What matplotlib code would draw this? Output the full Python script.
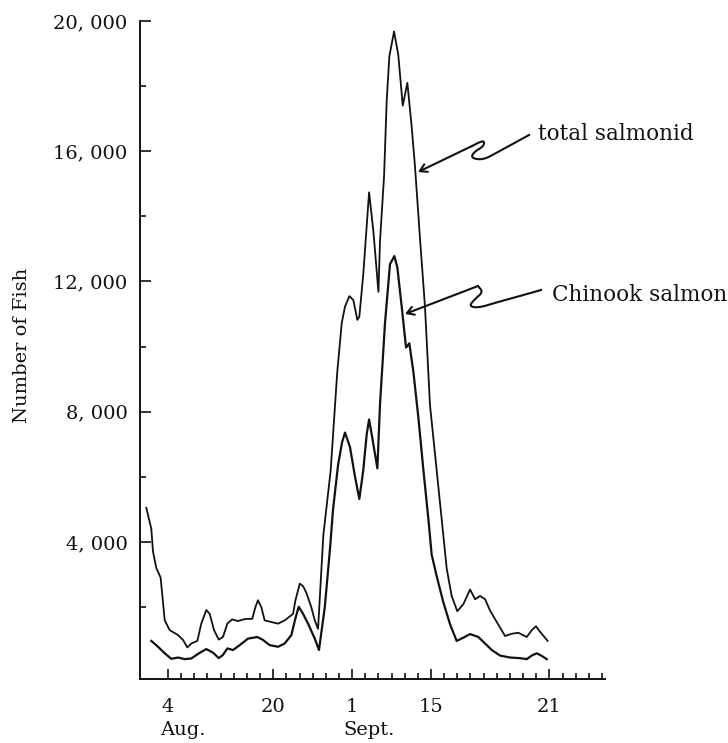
import numpy as np
import matplotlib
matplotlib.use("Agg")
from matplotlib import pyplot as plt

# x is measured in tick intervals along the date axis (tick 0 = "4 Aug.")
TOTAL_X = [-1.65, -1.27, -1.14, -0.89, -0.56, -0.25, 0.13, 0.76, 1.14, 1.47, 1.77, 2.23, 2.53, 2.91,
           3.17, 3.50, 3.86, 4.18, 4.51, 4.87, 5.32, 5.83, 6.41, 6.64, 6.84, 7.10, 7.35, 7.86, 8.37,
           8.87, 9.51, 9.68, 10.02, 10.27, 10.52, 10.90, 11.16, 11.41, 11.81, 12.37, 12.87, 13.21,
           13.46, 13.79, 14.09, 14.40, 14.55, 14.85, 15.29, 15.62, 16.0, 16.12, 16.43, 16.63, 16.83,
           17.19, 17.51, 17.85, 18.2, 18.53, 18.78, 19.16, 19.54, 19.92, 20.43, 20.81, 21.19, 21.57,
           22.0, 22.46, 22.97, 23.35, 23.73, 24.11, 24.49, 25.0, 25.63, 26.14, 26.64, 27.28, 27.66,
           27.98, 28.29, 28.87]
TOTAL_Y = [5050, 4400, 3700, 3200, 2900, 1590, 1290, 1140, 990, 760, 880, 960, 1490, 1910,
           1790, 1290, 1000, 1080, 1490, 1620, 1570, 1630, 1640, 1990, 2210, 1990, 1590, 1540, 1490,
           1590, 1790, 2190, 2720, 2640, 2440, 1990, 1590, 1330, 4200, 6200, 9220, 10720,
           11230, 11550, 11430, 10820, 10920, 12230, 14740, 13530, 11680, 13230, 15240, 17550, 18910,
           19680, 18960, 17400, 18100, 16750, 15540, 13330, 11230, 8210, 6200, 4700, 3190, 2340,
           1870, 2090, 2540, 2240, 2340, 2240, 1890, 1540, 1110, 1180, 1210, 1080, 1290,
           1410, 1240, 960]

CHINOOK_X = [-1.27, -0.76, -0.25, 0.25, 0.76, 1.27, 1.77, 2.28, 2.91, 3.42, 3.86, 4.18, 4.51, 4.94,
             5.45, 6.08, 6.79, 7.22, 7.73, 8.37, 8.87, 9.38, 9.68, 9.94, 10.27, 10.65, 11.16, 11.48,
             11.92, 12.32, 12.55, 12.93, 13.23, 13.46, 13.84, 14.22, 14.55, 14.85, 15.11, 15.29,
             15.57, 15.92, 16.12, 16.5, 16.88, 17.21, 17.44, 17.77, 18.1, 18.35, 18.66, 19.04, 19.42,
             19.8, 20.05, 20.43, 20.94, 21.44, 21.95, 22.46, 22.97, 23.6, 24.11, 24.62, 25.25, 26.0,
             26.77, 27.28, 27.66, 28.04, 28.42, 28.80]
CHINOOK_Y = [960, 780, 580, 410, 450, 400, 420, 560, 710, 600, 430, 530, 730, 680,
             830, 1030, 1080, 990, 830, 780, 880, 1140, 1640, 2010, 1790, 1490, 1030, 680,
             1990, 3800, 5000, 6360, 7050, 7360, 6910, 6000, 5320, 6210, 7310, 7760,
             7110, 6260, 8210, 10720, 12530, 12780, 12430, 11230, 9970, 10100, 9220, 7810, 6210,
             4700, 3610, 2950, 2140, 1480, 960, 1060, 1170, 1080, 880, 680, 510, 450,
             430, 400, 510, 580, 500, 400]

DATE_TICKS = [0, 8, 14, 20, 29]
DATE_LABELS = ['4', '20', '1', '15', '21']
MONTHS = [(-0.6, 'Aug.'), (13.3, 'Sept.')]
Y_TICKS = [4000, 8000, 12000, 16000, 20000]
Y_LABELS = ['4, 000', '8, 000', '12, 000', '16, 000', '20, 000']

W, H = 728, 743
FONT = 'DejaVu Serif'
INK = '#111111'


def px(x, y):
    return x / W, 1 - y / H


def chaikin(pts, n=3):
    pts = np.asarray(pts, float)
    for _ in range(n):
        a, b = pts[:-1], pts[1:]
        q = 0.75 * a + 0.25 * b
        r = 0.25 * a + 0.75 * b
        mid = np.empty((len(q) * 2, 2))
        mid[0::2], mid[1::2] = q, r
        pts = np.vstack([pts[:1], mid, pts[-1:]])
    return pts


def squiggle(fig, tip, pts):
    # hand drawn wavy pointer, pts run from the text toward the curve
    line = chaikin([px(*p) for p in pts], n=2)
    fig.add_artist(plt.Line2D(line[:, 0], line[:, 1], transform=fig.transFigure, color=INK, lw=1.5))
    fig.add_artist(matplotlib.patches.FancyArrowPatch(
        px(*pts[-1]), px(*tip), transform=fig.transFigure,
        arrowstyle='->,head_length=5,head_width=3', color=INK, lw=1.5, shrinkA=0, shrinkB=0))


fig = plt.figure(figsize=(W / 100, H / 100), dpi=100)
ax = fig.add_axes([140 / W, 1 - 679 / H, 465 / W, 658 / H])

ax.plot(TOTAL_X, TOTAL_Y, color=INK, lw=1.3)
ax.plot(CHINOOK_X, CHINOOK_Y, color=INK, lw=1.6)

ax.set_xlim(-2.13, 33.23)
ax.set_ylim(-210, 20000)
for s in ['top', 'right']:
    ax.spines[s].set_visible(False)
for s in ['left', 'bottom']:
    ax.spines[s].set_linewidth(1.4)
    ax.spines[s].set_color(INK)

ax.set_xticks(DATE_TICKS)
ax.set_xticklabels(DATE_LABELS, fontfamily=FONT, fontsize=14)
ax.set_xticks(np.arange(0, 34), minor=True)
ax.set_yticks(Y_TICKS)
ax.set_yticklabels(Y_LABELS, fontfamily=FONT, fontsize=14)
ax.set_yticks(np.arange(2000, 20000, 4000), minor=True)
ax.tick_params(axis='x', which='major', direction='in', length=7, width=1.2, pad=14, colors=INK)
ax.tick_params(axis='x', which='minor', direction='in', length=4, width=1.2, colors=INK)
ax.tick_params(axis='y', which='major', direction='in', length=8, width=1.2, pad=9, colors=INK)
ax.tick_params(axis='y', which='minor', direction='in', length=4, width=1.2, colors=INK)

for x, name in MONTHS:
    ax.text(x, -0.078, name, transform=ax.get_xaxis_transform(), ha='left', va='center',
            fontfamily=FONT, fontsize=14, color=INK)

fig.text(22 / W, 1 - 345 / H, 'Number of Fish', rotation=90, ha='center', va='center',
         fontfamily=FONT, fontsize=14, color=INK)

fig.text(538 / W, 1 - 134 / H, 'total salmonid', ha='left', va='center',
         fontfamily=FONT, fontsize=15.5, color=INK)
fig.text(552 / W, 1 - 295 / H, 'Chinook salmon', ha='left', va='center',
         fontfamily=FONT, fontsize=15.5, color=INK)

squiggle(fig, (418, 172), [(529, 135), (498, 152), (483, 160), (471, 158), (474, 152),
                           (484, 146), (484, 140), (472, 146)])
squiggle(fig, (405, 314), [(541, 290), (520, 296), (498, 302), (478, 308), (469, 306),
                           (475, 299), (483, 292), (478, 286)])

fig.savefig('out.png', dpi=100, facecolor='white')
